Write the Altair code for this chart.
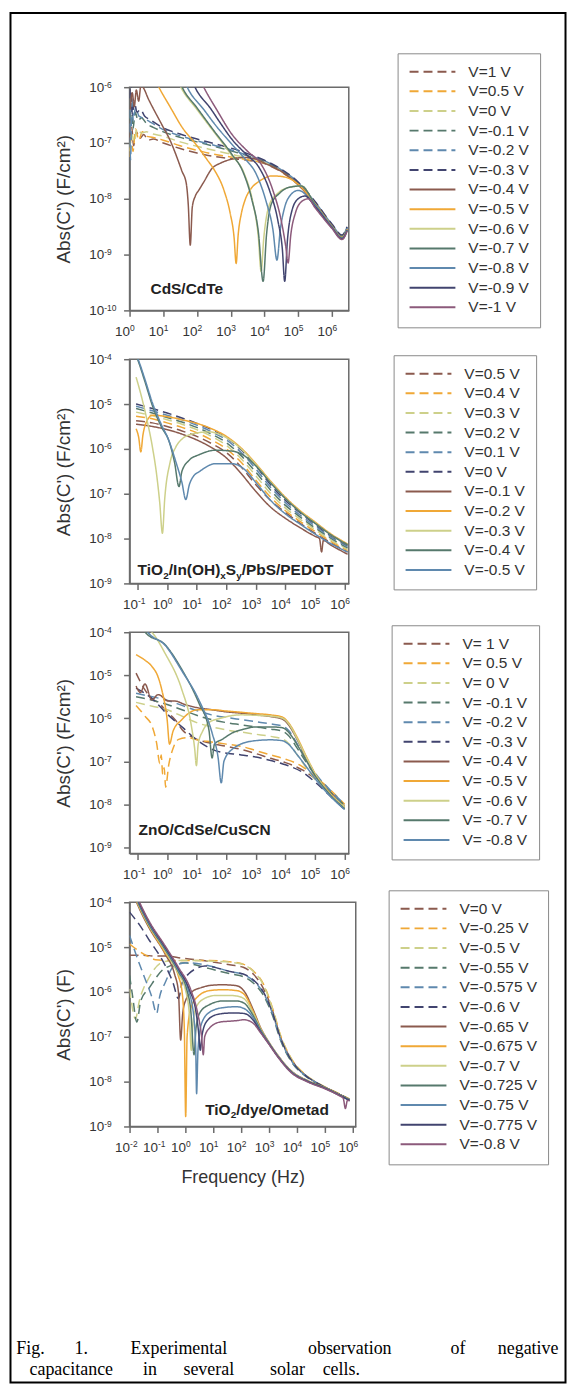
import altair as alt
import pandas as pd

BROWN = "#8b5a4e"
ORANGE = "#f0a836"
YELLOW = "#cdd08a"
TEAL = "#56796c"
BLUE = "#5f89ae"
NAVY = "#41446f"
MAUVE = "#8c5a7b"
DASH = [9, 5]
SOLID = [1, 0]
AX = "#6b6b6b"
FONT = "Liberation Sans"

# ---------------- data: (log10 frequency [Hz], log10 |C'|) pairs ----------------
P1_LABELS = ["V=1 V", "V=0.5 V", "V=0 V", "V=-0.1 V", "V=-0.2 V", "V=-0.3 V", "V=-0.4 V",
             "V=-0.5 V", "V=-0.6 V", "V=-0.7 V", "V=-0.8 V", "V=-0.9 V", "V=-1 V"]
P1_CURVES = [
    [(0.0,-6.95),(0.06,-6.7),(0.12,-7.05),(0.2,-6.8),(0.3,-6.92),(0.42,-6.85),(0.55,-6.95),(0.7,-6.93),(1.0,-7.0),(1.5,-7.1),(2.0,-7.18),(2.5,-7.24),(3.0,-7.28),(3.5,-7.31),(4.0,-7.37),(4.5,-7.52),(5.0,-7.75),(5.5,-8.1),(6.0,-8.5),(6.3,-8.7),(6.45,-8.55)],
    [(0.0,-7.25),(0.05,-6.9),(0.1,-7.15),(0.18,-6.75),(0.27,-6.95),(0.38,-6.8),(0.5,-6.88),(0.7,-6.9),(1.0,-6.95),(1.5,-7.05),(2.0,-7.13),(2.5,-7.2),(3.0,-7.25),(3.5,-7.3),(4.0,-7.36),(4.5,-7.51),(5.0,-7.74),(5.5,-8.09),(6.0,-8.49),(6.3,-8.69),(6.45,-8.54)],
    [(0.0,-7.15),(0.07,-6.85),(0.14,-6.98),(0.22,-6.75),(0.35,-6.82),(0.5,-6.8),(0.7,-6.84),(1.0,-6.88),(1.5,-6.98),(2.0,-7.06),(2.5,-7.13),(3.0,-7.2),(3.5,-7.27),(4.0,-7.35),(4.5,-7.5),(5.0,-7.73),(5.5,-8.08),(6.0,-8.48),(6.3,-8.68),(6.45,-8.53)],
    [(0.0,-6.6),(0.05,-6.3),(0.1,-6.75),(0.17,-6.45),(0.25,-6.6),(0.35,-6.55),(0.5,-6.65),(0.7,-6.72),(1.0,-6.8),(1.5,-6.9),(2.0,-6.98),(2.5,-7.06),(3.0,-7.14),(3.5,-7.23),(4.0,-7.33),(4.5,-7.49),(5.0,-7.72),(5.5,-8.07),(6.0,-8.47),(6.3,-8.67),(6.45,-8.52)],
    [(0.0,-6.4),(0.03,-7.3),(0.07,-6.2),(0.11,-6.6),(0.18,-6.35),(0.28,-6.52),(0.4,-6.55),(0.6,-6.62),(1.0,-6.76),(1.5,-6.87),(2.0,-6.96),(2.5,-7.04),(3.0,-7.12),(3.5,-7.22),(4.0,-7.32),(4.5,-7.48),(5.0,-7.71),(5.5,-8.06),(6.0,-8.46),(6.3,-8.66),(6.45,-8.51)],
    [(0.0,-6.2),(0.04,-5.9),(0.08,-6.5),(0.14,-6.25),(0.22,-6.45),(0.32,-6.4),(0.45,-6.52),(0.6,-6.58),(1.0,-6.73),(1.5,-6.84),(2.0,-6.93),(2.5,-7.01),(3.0,-7.09),(3.5,-7.19),(4.0,-7.31),(4.5,-7.47),(5.0,-7.7),(5.5,-8.05),(6.0,-8.45),(6.3,-8.65),(6.45,-8.5)],
    [(0.02,-6.4),(0.08,-6.1),(0.14,-6.35),(0.2,-6.05),(0.27,-6.25),(0.34,-5.95),(0.42,-6.02),(0.55,-6.2),(0.7,-6.38),(0.85,-6.55),(1.0,-6.72),(1.2,-6.95),(1.4,-7.25),(1.55,-7.5),(1.68,-7.72),(1.74,-8.1),(1.8,-8.83),(1.86,-8.15),(1.95,-7.95),(2.05,-7.85),(2.2,-7.7),(2.44,-7.46),(2.7,-7.36),(3.03,-7.29),(3.41,-7.26),(3.8,-7.3),(4.0,-7.36),(4.5,-7.51),(5.0,-7.75),(5.5,-8.09),(6.0,-8.49),(6.3,-8.69),(6.45,-8.55)],
    [(0.75,-5.85),(0.87,-6.0),(1.2,-6.35),(1.56,-6.72),(2.0,-7.05),(2.3,-7.3),(2.53,-7.5),(2.8,-7.85),(2.98,-8.25),(3.1,-8.7),(3.16,-9.16),(3.22,-8.65),(3.32,-8.25),(3.42,-8.03),(3.6,-7.82),(3.81,-7.7),(4.0,-7.63),(4.2,-7.59),(4.5,-7.6),(4.75,-7.64),(5.0,-7.74),(5.5,-8.09),(6.0,-8.49),(6.3,-8.69),(6.45,-8.55)],
    [(1.4,-5.85),(1.52,-6.0),(2.0,-6.4),(2.5,-6.8),(3.0,-7.2),(3.4,-7.55),(3.65,-8.05),(3.82,-8.7),(3.9,-9.3),(3.98,-8.7),(4.15,-8.1),(4.4,-7.9),(4.7,-7.8),(5.09,-7.77),(5.5,-8.1),(6.0,-8.5),(6.3,-8.7),(6.45,-8.56)],
    [(1.45,-5.85),(1.56,-6.0),(2.0,-6.37),(2.5,-6.78),(3.03,-7.2),(3.35,-7.5),(3.62,-8.0),(3.82,-8.6),(3.96,-9.48),(4.06,-8.65),(4.2,-8.1),(4.45,-7.9),(4.7,-7.8),(5.09,-7.77),(5.5,-8.1),(6.0,-8.5),(6.3,-8.7),(6.45,-8.56)],
    [(1.6,-5.85),(1.71,-6.0),(2.2,-6.4),(2.6,-6.72),(3.03,-7.02),(3.4,-7.27),(3.75,-7.55),(4.05,-8.05),(4.25,-8.55),(4.37,-9.1),(4.47,-8.55),(4.6,-8.15),(4.75,-7.95),(5.0,-7.85),(5.5,-8.12),(6.0,-8.51),(6.3,-8.71),(6.45,-8.56)],
    [(1.83,-5.85),(1.94,-6.0),(2.4,-6.38),(2.7,-6.65),(3.03,-6.93),(3.45,-7.2),(3.85,-7.45),(4.15,-7.85),(4.4,-8.4),(4.53,-8.9),(4.6,-9.48),(4.68,-8.75),(4.82,-8.2),(5.0,-8.0),(5.2,-7.95),(5.5,-8.14),(6.0,-8.52),(6.3,-8.72),(6.45,-8.57)],
    [(2.08,-5.85),(2.2,-6.0),(2.6,-6.42),(3.03,-6.84),(3.5,-7.15),(3.9,-7.38),(4.25,-7.85),(4.5,-8.4),(4.63,-8.85),(4.7,-9.15),(4.78,-8.65),(4.92,-8.25),(5.1,-8.05),(5.3,-8.0),(5.5,-8.16),(6.0,-8.53),(6.3,-8.73),(6.45,-8.58)],
]

P2_LABELS = ["V=0.5 V", "V=0.4 V", "V=0.3 V", "V=0.2 V", "V=0.1 V", "V=0 V",
             "V=-0.1 V", "V=-0.2 V", "V=-0.3 V", "V=-0.4 V", "V=-0.5 V"]
P2_CURVES = [
    [(-1.05,-5.37),(-0.5,-5.42),(0,-5.5),(0.5,-5.6),(1,-5.72),(1.5,-5.88),(2,-6.08),(2.5,-6.4),(3,-6.8),(3.5,-7.15),(4,-7.42),(4.5,-7.66),(5,-7.88),(5.5,-8.08),(6.1,-8.3)],
    [(-1.05,-5.27),(-0.5,-5.33),(0,-5.42),(0.5,-5.52),(1,-5.64),(1.5,-5.8),(2,-6.0),(2.5,-6.3),(3,-6.7),(3.5,-7.08),(4,-7.38),(4.5,-7.62),(5,-7.84),(5.5,-8.05),(6.1,-8.27)],
    [(-1.05,-5.18),(-0.5,-5.26),(0,-5.35),(0.5,-5.45),(1,-5.57),(1.5,-5.72),(2,-5.92),(2.5,-6.22),(3,-6.6),(3.5,-7.0),(4,-7.32),(4.5,-7.57),(5,-7.8),(5.5,-8.02),(6.1,-8.24)],
    [(-1.05,-5.1),(-0.5,-5.2),(0,-5.3),(0.5,-5.4),(1,-5.52),(1.5,-5.67),(2,-5.86),(2.5,-6.15),(3,-6.52),(3.5,-6.92),(4,-7.26),(4.5,-7.52),(5,-7.76),(5.5,-7.98),(6.1,-8.21)],
    [(-1.05,-5.05),(-0.5,-5.15),(0,-5.25),(0.5,-5.35),(1,-5.47),(1.5,-5.62),(2,-5.8),(2.5,-6.08),(3,-6.45),(3.5,-6.86),(4,-7.2),(4.5,-7.48),(5,-7.72),(5.5,-7.95),(6.1,-8.18)],
    [(-1.05,-5.0),(-0.5,-5.1),(0,-5.2),(0.5,-5.31),(1,-5.43),(1.5,-5.57),(2,-5.75),(2.5,-6.02),(3,-6.38),(3.5,-6.8),(4,-7.15),(4.5,-7.43),(5,-7.68),(5.5,-7.92),(6.1,-8.15)],
    [(-1.05,-5.45),(-0.5,-5.5),(0,-5.57),(0.5,-5.67),(1,-5.8),(1.5,-5.97),(2,-6.2),(2.5,-6.55),(3,-6.95),(3.5,-7.3),(4,-7.55),(4.5,-7.76),(5.0,-7.95),(5.15,-8.0),(5.22,-8.3),(5.28,-8.04),(5.5,-8.13),(6.1,-8.35)],
    [(-1.05,-5.55),(-0.96,-5.75),(-0.89,-6.07),(-0.82,-5.7),(-0.7,-5.4),(-0.5,-5.25),(0,-5.28),(0.5,-5.35),(1,-5.43),(1.5,-5.55),(2,-5.72),(2.5,-5.98),(3,-6.33),(3.5,-6.72),(4,-7.08),(4.5,-7.38),(5,-7.63),(5.5,-7.88),(6.1,-8.12)],
    [(-1.05,-4.4),(-0.9,-4.75),(-0.7,-5.3),(-0.5,-5.95),(-0.35,-6.6),(-0.25,-7.2),(-0.16,-7.88),(-0.08,-7.1),(0.1,-6.3),(0.3,-5.95),(0.52,-5.77),(0.9,-5.66),(1.41,-5.62),(2,-5.75),(2.5,-6.0),(3,-6.35),(3.5,-6.74),(4,-7.1),(4.5,-7.4),(5,-7.65),(5.5,-7.9),(6.1,-8.14)],
    [(-1.2,-3.7),(-1.0,-4.0),(-0.75,-4.5),(-0.5,-5.03),(-0.2,-5.5),(0.07,-5.84),(0.25,-6.3),(0.4,-6.84),(0.5,-6.5),(0.75,-6.25),(1.08,-6.13),(1.63,-6.03),(2.2,-6.05),(2.6,-6.15),(3,-6.38),(3.5,-6.76),(4,-7.11),(4.5,-7.41),(5,-7.66),(5.5,-7.9),(6.1,-8.14)],
    [(-1.2,-3.68),(-1.0,-3.97),(-0.75,-4.45),(-0.5,-4.97),(-0.2,-5.45),(0.05,-5.8),(0.3,-6.3),(0.5,-6.75),(0.63,-7.13),(0.75,-6.8),(0.9,-6.6),(1.08,-6.51),(1.63,-6.33),(2.2,-6.33),(2.6,-6.45),(3,-6.75),(3.5,-7.15),(4,-7.45),(4.5,-7.68),(5,-7.9),(5.5,-8.1),(6.1,-8.3)],
]

P3_LABELS = ["V= 1 V", "V= 0.5 V", "V= 0 V", "V= -0.1 V", "V= -0.2 V", "V= -0.3 V",
             "V= -0.4 V", "V= -0.5 V", "V= -0.6 V", "V= -0.7 V", "V= -0.8 V"]
P3_CURVES = [
    [(-1.05,-4.95),(-0.75,-5.34),(-0.5,-5.55),(-0.29,-5.64),(0,-5.85),(0.27,-6.03),(0.5,-6.26),(0.8,-6.42),(1.41,-6.57),(2,-6.65),(2.5,-6.72),(3,-6.82),(3.5,-6.93),(4,-7.03),(4.57,-7.2),(5,-7.4),(5.5,-7.7),(6.0,-8.05)],
    [(-1.05,-5.7),(-0.75,-5.95),(-0.5,-6.2),(-0.35,-6.6),(-0.25,-7.05),(-0.2,-6.85),(-0.15,-7.3),(-0.1,-7.15),(-0.05,-7.6),(0.05,-7.1),(0.2,-6.7),(0.39,-6.49),(0.7,-6.45),(1.0,-6.5),(1.5,-6.55),(2,-6.6),(2.5,-6.65),(3,-6.75),(3.5,-6.85),(4,-6.95),(4.57,-7.12),(5,-7.35),(5.5,-7.65),(6.0,-8.0)],
    [(-1.05,-5.63),(-0.5,-5.72),(0,-5.8),(0.5,-5.95),(1,-6.1),(1.5,-6.2),(2,-6.27),(2.5,-6.32),(3,-6.37),(3.5,-6.42),(3.9,-6.48),(4.1,-6.58),(4.4,-6.85),(4.7,-7.15),(5.0,-7.42),(5.5,-7.75),(6.0,-8.05)],
    [(-1.05,-5.5),(-0.5,-5.58),(0,-5.68),(0.5,-5.8),(1,-5.93),(1.5,-6.03),(2,-6.1),(2.5,-6.15),(3,-6.2),(3.5,-6.25),(3.9,-6.3),(4.1,-6.4),(4.4,-6.7),(4.7,-7.02),(5.0,-7.32),(5.5,-7.7),(6.0,-8.02)],
    [(-1.05,-5.42),(-0.5,-5.5),(0,-5.58),(0.5,-5.7),(1,-5.82),(1.5,-5.92),(2,-5.98),(2.5,-6.03),(3,-6.08),(3.5,-6.13),(3.9,-6.18),(4.1,-6.28),(4.4,-6.6),(4.7,-6.95),(5.0,-7.27),(5.5,-7.66),(6.0,-8.0)],
    [(-1.05,-5.3),(-0.5,-5.55),(0,-5.9),(0.5,-6.2),(1,-6.5),(1.63,-6.75),(2.5,-6.85),(3,-6.9),(3.5,-6.98),(4,-7.08),(4.57,-7.25),(5,-7.48),(5.5,-7.8),(6.0,-8.12)],
    [(-1.05,-5.25),(-0.9,-5.4),(-0.75,-5.2),(-0.52,-5.57),(-0.3,-5.45),(0.05,-5.6),(0.27,-5.6),(0.6,-5.68),(1,-5.75),(1.5,-5.8),(2,-5.85),(2.5,-5.88),(3,-5.92),(3.5,-5.96),(3.9,-6.02),(4.1,-6.15),(4.4,-6.5),(4.7,-6.92),(5,-7.3),(5.5,-7.75),(6.0,-8.1)],
    [(-1.05,-4.52),(-0.75,-4.65),(-0.52,-4.79),(-0.3,-5.05),(-0.18,-5.34),(0,-6.03),(0.08,-6.6),(0.2,-6.3),(0.5,-6.03),(0.8,-5.85),(1.07,-5.8),(1.5,-5.8),(2,-5.83),(2.5,-5.86),(3,-5.89),(3.5,-5.92),(3.89,-5.97),(4.1,-6.1),(4.4,-6.45),(4.7,-6.88),(5,-7.28),(5.5,-7.74),(6.0,-8.08)],
    [(-0.7,-3.9),(-0.52,-4.0),(-0.07,-4.49),(0.5,-5.34),(0.8,-6.1),(0.93,-6.7),(0.99,-7.1),(1.05,-6.6),(1.2,-6.3),(1.41,-6.1),(1.8,-6.0),(2.5,-5.92),(3,-5.93),(3.5,-5.95),(3.9,-6.0),(4.1,-6.12),(4.4,-6.48),(4.7,-6.9),(5,-7.29),(5.5,-7.75),(6.0,-8.08)],
    [(-0.8,-3.9),(-0.74,-4.0),(-0.07,-4.29),(0.5,-4.87),(1.07,-5.64),(1.41,-6.26),(1.52,-6.92),(1.6,-6.6),(1.86,-6.49),(2.2,-6.34),(2.6,-6.25),(3,-6.2),(3.5,-6.2),(3.9,-6.22),(4.1,-6.32),(4.4,-6.62),(4.7,-6.98),(5,-7.33),(5.5,-7.77),(6.0,-8.1)],
    [(-0.75,-3.9),(-0.65,-4.0),(-0.07,-4.3),(0.5,-4.9),(1.07,-5.57),(1.52,-6.34),(1.72,-6.9),(1.83,-7.5),(1.92,-7.0),(2.2,-6.72),(2.87,-6.53),(3.5,-6.5),(3.89,-6.52),(4.1,-6.6),(4.4,-6.85),(4.7,-7.12),(5,-7.4),(5.5,-7.8),(6.0,-8.12)],
]

P4_LABELS = ["V=0 V", "V=-0.25 V", "V=-0.5 V", "V=-0.55 V", "V=-0.575 V", "V=-0.6 V", "V=-0.65 V",
             "V=-0.675 V", "V=-0.7 V", "V=-0.725 V", "V=-0.75 V", "V=-0.775 V", "V=-0.8 V"]
P4_CURVES = [
    [(-2.0,-5.18),(-1.55,-5.18),(-1.07,-5.2),(-0.73,-5.2),(-0.1,-5.25),(0.38,-5.28),(0.87,-5.32),(1.64,-5.4),(2.07,-5.45),(2.43,-5.6),(2.79,-5.92),(3.14,-6.45),(3.39,-6.98),(3.79,-7.5),(4.29,-7.85),(4.57,-7.98),(5.0,-8.13),(5.5,-8.28),(5.88,-8.4)],
    [(-2.0,-4.93),(-1.75,-5.05),(-1.36,-5.2),(-1.07,-5.28),(-0.58,-5.3),(-0.1,-5.3),(0.38,-5.3),(0.87,-5.3),(1.64,-5.33),(2.07,-5.38),(2.43,-5.53),(2.79,-5.82),(3.14,-6.4),(3.39,-6.94),(3.79,-7.48),(4.29,-7.84),(4.57,-7.97),(5.0,-8.12),(5.5,-8.27),(5.88,-8.39)],
    [(-2.0,-5.93),(-1.94,-6.2),(-1.79,-6.6),(-1.65,-6.2),(-1.32,-5.7),(-0.73,-5.32),(-0.1,-5.3),(0.38,-5.3),(0.87,-5.31),(1.64,-5.34),(2.07,-5.39),(2.43,-5.54),(2.79,-5.84),(3.14,-6.42),(3.39,-6.95),(3.79,-7.49),(4.29,-7.85),(4.57,-7.97),(5.0,-8.12),(5.5,-8.27),(5.88,-8.39)],
    [(-2.0,-5.63),(-1.89,-6.1),(-1.74,-6.67),(-1.6,-6.2),(-1.32,-5.93),(-0.73,-5.47),(-0.01,-5.35),(0.38,-5.4),(0.87,-5.48),(1.64,-5.6),(2.07,-5.66),(2.43,-5.8),(2.79,-6.07),(3.14,-6.56),(3.39,-7.05),(3.79,-7.55),(4.29,-7.87),(4.57,-7.99),(5.0,-8.13),(5.5,-8.28),(5.88,-8.4)],
    [(-2.0,-4.74),(-1.75,-5.2),(-1.45,-5.7),(-1.21,-6.1),(-1.03,-6.48),(-0.92,-6.1),(-0.73,-5.8),(-0.37,-5.4),(0.1,-5.35),(0.87,-5.42),(1.64,-5.55),(2.07,-5.61),(2.43,-5.75),(2.79,-6.02),(3.14,-6.52),(3.39,-7.02),(3.79,-7.53),(4.29,-7.86),(4.57,-7.98),(5.0,-8.13),(5.5,-8.28),(5.88,-8.4)],
    [(-2.0,-4.22),(-1.65,-4.5),(-1.32,-4.82),(-0.73,-5.4),(-0.44,-5.8),(-0.25,-6.15),(-0.12,-5.8),(0.11,-5.6),(0.38,-5.48),(0.7,-5.42),(1.64,-5.55),(2.07,-5.6),(2.43,-5.73),(2.79,-6.0),(3.14,-6.5),(3.39,-7.0),(3.79,-7.52),(4.29,-7.86),(4.57,-7.98),(5.0,-8.13),(5.5,-8.28),(5.88,-8.4)],
    [(-2.0,-3.6),(-1.68,-4.1),(-1.32,-4.55),(-0.73,-5.15),(-0.39,-5.6),(-0.25,-6.0),(-0.17,-7.07),(-0.1,-6.5),(0.0,-6.2),(0.23,-6.0),(0.58,-5.9),(0.94,-5.85),(1.35,-5.84),(1.83,-5.86),(2.1,-5.98),(2.43,-6.4),(2.68,-6.78),(2.96,-7.09),(3.32,-7.42),(3.79,-7.76),(4.39,-7.98),(5.0,-8.13),(5.5,-8.28),(5.88,-8.41)],
    [(-2.0,-3.58),(-1.68,-4.07),(-1.32,-4.52),(-0.73,-5.12),(-0.25,-5.65),(-0.12,-6.0),(-0.04,-6.8),(0.01,-8.78),(0.06,-7.0),(0.2,-6.35),(0.45,-6.1),(0.87,-5.97),(1.35,-5.95),(1.83,-5.97),(2.1,-6.05),(2.43,-6.44),(2.68,-6.8),(2.96,-7.1),(3.32,-7.43),(3.79,-7.77),(4.39,-7.99),(5.0,-8.14),(5.5,-8.29),(5.88,-8.41)],
    [(-2.0,-3.56),(-1.68,-4.05),(-1.32,-4.5),(-0.73,-5.08),(-0.25,-5.6),(0.0,-5.95),(0.14,-6.5),(0.21,-7.3),(0.27,-6.7),(0.38,-6.35),(0.67,-6.15),(1.06,-6.08),(1.64,-6.08),(1.83,-6.09),(2.1,-6.15),(2.43,-6.48),(2.68,-6.81),(2.96,-7.1),(3.32,-7.43),(3.79,-7.77),(4.39,-7.99),(5.0,-8.14),(5.5,-8.29),(5.88,-8.41)],
    [(-2.0,-3.54),(-1.68,-4.03),(-1.32,-4.48),(-0.73,-5.05),(-0.25,-5.55),(0.05,-5.95),(0.19,-6.4),(0.31,-7.4),(0.38,-6.8),(0.53,-6.45),(0.87,-6.28),(1.35,-6.2),(1.83,-6.2),(2.1,-6.25),(2.43,-6.53),(2.68,-6.83),(2.96,-7.11),(3.32,-7.44),(3.79,-7.78),(4.39,-7.99),(5.0,-8.14),(5.5,-8.29),(5.88,-8.41)],
    [(-2.0,-3.52),(-1.68,-4.0),(-1.32,-4.45),(-0.73,-5.02),(-0.25,-5.52),(0.1,-5.95),(0.29,-6.5),(0.37,-7.3),(0.4,-8.27),(0.45,-7.3),(0.58,-6.7),(0.87,-6.45),(1.35,-6.35),(1.83,-6.33),(2.1,-6.37),(2.43,-6.58),(2.68,-6.86),(2.96,-7.12),(3.32,-7.44),(3.79,-7.78),(4.39,-8.0),(5.0,-8.15),(5.5,-8.3),(5.88,-8.42)],
    [(-2.0,-3.5),(-1.68,-3.98),(-1.32,-4.42),(-0.73,-5.0),(-0.25,-5.48),(0.14,-5.95),(0.38,-6.45),(0.48,-6.95),(0.53,-7.3),(0.6,-6.95),(0.77,-6.65),(1.15,-6.5),(1.64,-6.47),(1.83,-6.47),(2.1,-6.48),(2.43,-6.63),(2.68,-6.88),(2.96,-7.13),(3.32,-7.45),(3.79,-7.79),(4.39,-8.0),(5.0,-8.15),(5.5,-8.3),(5.88,-8.42)],
    [(-2.0,-3.48),(-1.68,-3.95),(-1.32,-4.4),(-0.73,-4.97),(-0.25,-5.45),(0.19,-5.95),(0.43,-6.45),(0.58,-7.0),(0.64,-7.4),(0.69,-7.0),(0.87,-6.8),(1.25,-6.67),(1.64,-6.65),(1.83,-6.64),(2.1,-6.62),(2.43,-6.7),(2.68,-6.9),(2.96,-7.14),(3.32,-7.46),(3.79,-7.8),(4.39,-8.01),(5.0,-8.16),(5.5,-8.31),(5.65,-8.37),(5.73,-8.6),(5.8,-8.42),(5.88,-8.43)],
]

X_TICKS_1 = [1e0, 1e1, 1e2, 1e3, 1e4, 1e5, 1e6]
X_TICKS_23 = [1e-1, 1e0, 1e1, 1e2, 1e3, 1e4, 1e5, 1e6]
X_TICKS_4 = [1e-2, 1e-1, 1e0, 1e1, 1e2, 1e3, 1e4, 1e5, 1e6]
Y_TICKS_1 = [1e-10, 1e-9, 1e-8, 1e-7, 1e-6]
Y_TICKS_234 = [1e-9, 1e-8, 1e-7, 1e-6, 1e-5, 1e-4]

CAPTION_1 = ["Fig.", "1.", "Experimental", "observation", "of", "negative"]
CAPTION_2 = ["capacitance", "in", "several", "solar", "cells."]

COLORS_13 = [BROWN, ORANGE, YELLOW, TEAL, BLUE, NAVY, BROWN, ORANGE, YELLOW, TEAL, BLUE, NAVY, MAUVE]
COLORS_11 = [BROWN, ORANGE, YELLOW, TEAL, BLUE, NAVY, BROWN, ORANGE, YELLOW, TEAL, BLUE]
DASHES_13 = [DASH] * 6 + [SOLID] * 7
DASHES_11 = [DASH] * 6 + [SOLID] * 5

BASE_EXPR = "'10'"
EXP_EXPR = "(datum.value < 0.5 ? '-' : '') + round(abs(log(datum.value) / LN10))"

LBL = 13.5
EXP = 8.5


def make_df(labels, curves):
    rows = []
    for name, pts in zip(labels, curves):
        for i, (lf, lc) in enumerate(pts):
            rows.append({"s": name, "f": 10 ** lf, "c": 10 ** lc, "i": i})
    return pd.DataFrame(rows)


def txt(s, x, y, size, weight="normal", align="left", font=FONT, color="#222"):
    return alt.Chart(pd.DataFrame({"t": [s]})).mark_text(
        align=align, baseline="alphabetic", fontSize=size, fontWeight=weight,
        font=font, color=color
    ).encode(x=alt.value(x), y=alt.value(y), text="t:N")


def panel(labels, curves, colors, dashes, xdom, ydom, xticks, yticks, w, h, ytitle,
          legxy, xtitle=None, after=()):
    df = make_df(labels, curves)
    xscale = alt.Scale(type="log", domain=[10 ** xdom[0], 10 ** xdom[1]], nice=False)
    yscale = alt.Scale(type="log", domain=[10 ** ydom[0], 10 ** ydom[1]], nice=False)
    leg = alt.Legend(orient="none", legendX=legxy[0], legendY=legxy[1], title=None,
                     symbolType="stroke", symbolSize=2116, symbolStrokeWidth=2,
                     labelFont=FONT, labelFontSize=15.5, labelColor="#333",
                     labelOffset=12, padding=11, rowPadding=3.7, clipHeight=15,
                     strokeColor="#8a8a8a", fillColor="white")
    xaxis_kw = dict(orient="bottom", values=xticks, labelExpr=BASE_EXPR, labelFlush=False,
                    labelOverlap=False, tickSize=6, labelPadding=8, labelAlign="right",
                    labelFontSize=LBL, grid=False)
    if xtitle:
        xaxis_kw.update(titleFontSize=18, titleY=51, titleBaseline="middle",
                        titleFontWeight="normal")
    lines = alt.Chart(df).mark_line(clip=True, strokeWidth=1.5, interpolate="monotone").encode(
        x=alt.X("f:Q", title=xtitle, scale=xscale, axis=alt.Axis(**xaxis_kw)),
        y=alt.Y("c:Q", title=ytitle, scale=yscale,
                axis=alt.Axis(orient="left", values=yticks, labelExpr=BASE_EXPR, tickSize=6,
                              labelPadding=20, labelFontSize=LBL, grid=False,
                              titleX=-66, titleY=h / 2, titleAngle=270, titleAlign="center",
                              titleBaseline="middle", titleFontSize=19, titleFontWeight="normal")),
        color=alt.Color("s:N", scale=alt.Scale(domain=labels, range=colors), legend=leg),
        strokeDash=alt.StrokeDash("s:N", scale=alt.Scale(domain=labels, range=dashes), legend=leg),
    )
    # exponent labels (superscripts) drawn as a second axis on the same side
    ghost = alt.Chart(df).mark_point(opacity=0, clip=True).encode(
        x=alt.X("f:Q", title=None, scale=xscale,
                axis=alt.Axis(orient="bottom", values=xticks, labelExpr=EXP_EXPR,
                              labelFlush=False, labelOverlap=False, domain=False, ticks=False,
                              tickSize=0, labelPadding=13, labelAlign="left",
                              labelFontSize=EXP, grid=False)),
        y=alt.Y("c:Q", title=None, scale=yscale,
                axis=alt.Axis(orient="left", values=yticks, labelExpr=EXP_EXPR, domain=False,
                              ticks=False, tickSize=0, labelPadding=26, labelAlign="left",
                              labelBaseline="alphabetic", labelFontSize=EXP, grid=False)),
    )
    return alt.layer(lines, ghost, *after).resolve_axis(
        x="independent", y="independent").properties(width=w, height=h)


ONE = pd.DataFrame({"k": [0]})
border = alt.Chart(ONE).mark_rect(fill="transparent", stroke="black", strokeWidth=2).encode(
    x=alt.value(-119.5), x2=alt.value(437.5), y=alt.value(-74.5), y2=alt.value(1300))

cap1_x = [-99.5, -48.5, 49.5, 221, 329.5, 400]
cap2_x = [-58.5, 20.5, 79.5, 158.5, 212.5]
caption = [txt(w, x, 1271.5, 18, align="center", font="Liberation Serif", color="#000")
           for w, x in zip(CAPTION_1, cap1_x)]
caption += [txt(w, x, 1292, 18, align="center", font="Liberation Serif", color="#000")
            for w, x in zip(CAPTION_2, cap2_x)]

p1 = panel(P1_LABELS, P1_CURVES, COLORS_13, DASHES_13, (0, 6.5), (-10, -6),
           X_TICKS_1, Y_TICKS_1, 220, 224, "Abs(C') (F/cm\u00b2)", (269, -34),
           after=[txt("CdS/CdTe", 21, 207.7, 15.5, "bold"), border] + caption)

p2_label = [
    txt("TiO", 8, 216.5, 15.5, "bold"),
    txt("2", 33.84, 220.5, 10, "bold"),
    txt("/In(OH)", 39.4, 216.5, 15.5, "bold"),
    txt("x", 91.06, 220.5, 10, "bold"),
    txt("S", 96.62, 216.5, 15.5, "bold"),
    txt("y", 106.96, 220.5, 10, "bold"),
    txt("/PbS/PEDOT", 112.52, 216.5, 15.5, "bold"),
]
p2 = panel(P2_LABELS, P2_CURVES, COLORS_11, DASHES_11, (-1.27, 6.14), (-9, -4),
           X_TICKS_23, Y_TICKS_234, 220, 225, "Abs(C') (F/cm\u00b2)", (265, -4), after=p2_label)

p3 = panel(P3_LABELS, P3_CURVES, COLORS_11, DASHES_11, (-1.27, 6.14), (-9.14, -4),
           X_TICKS_23, Y_TICKS_234, 220, 222, "Abs(C') (F/cm\u00b2)", (263, -7),
           after=[txt("ZnO/CdSe/CuSCN", 9, 203.3, 15.5, "bold")])

p4_label = [
    txt("/dye/Ometad", 200, 213, 15.5, "bold", align="right"),
    txt("2", 107, 217, 10, "bold", align="right"),
    txt("TiO", 101.4, 213, 15.5, "bold", align="right"),
]
p4 = panel(P4_LABELS, P4_CURVES, COLORS_13, DASHES_13, (-2, 6.1), (-9, -4),
           X_TICKS_4, Y_TICKS_234, 227, 225, "Abs(C') (F)", (260, -12),
           xtitle="Frequency (Hz)", after=p4_label)

chart = alt.vconcat(p1, p2, p3, p4, spacing=49, bounds="flush").resolve_scale(
    x="independent", y="independent", color="independent", strokeDash="independent"
).resolve_legend(color="independent", strokeDash="independent").properties(
    padding=0
).configure_view(stroke=AX, strokeWidth=1.5).configure_axis(
    domainColor=AX, domainWidth=1.5, tickColor=AX, tickWidth=1.5,
    labelFont=FONT, labelColor="#333",
    titleFont=FONT, titleColor="#333"
)

chart.save("out.html", embed_options={"renderer": "svg", "actions": False})
